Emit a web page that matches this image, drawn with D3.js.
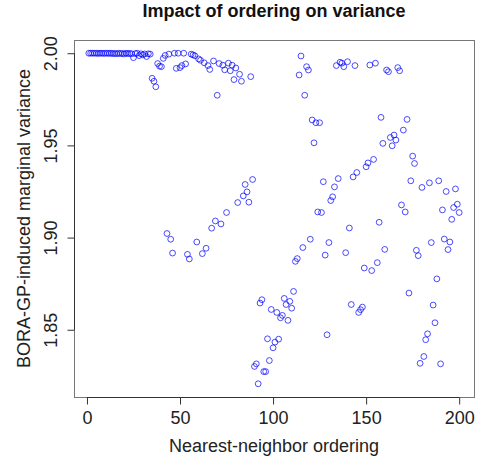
<!DOCTYPE html>
<html>
<head>
<meta charset="utf-8">
<script src="https://cdn.jsdelivr.net/npm/d3@7"></script>
<style>
  body { margin: 0; background: #fff; }
  svg text { font-family: "Liberation Sans", Arial, Helvetica, sans-serif; }
</style>
</head>
<body>
<script>
// ********************** DATA **********************************************
// marginal variance for each position in the nearest-neighbor ordering (1..200)
var variance = [
  2.0000, 2.0000, 2.0000, 2.0000, 2.0000, 1.9999, 2.0000, 2.0000, 1.9999, 2.0000,
  2.0000, 1.9999, 2.0000, 1.9998, 1.9999, 1.9997, 2.0000, 1.9998, 1.9999, 1.9996,
  2.0000, 1.9998, 1.9999, 1.9997, 1.9976, 1.9998, 2.0000, 1.9987, 1.9997, 1.9991,
  1.9996, 1.9982, 1.9997, 1.9995, 1.9864, 1.9848, 1.9818, 1.9944, 1.9930, 1.9927,
  1.9972, 1.9988, 1.9022, 1.9995, 1.8991, 1.8916, 2.0000, 1.9918, 2.0000, 1.9922,
  1.9933, 2.0000, 1.9942, 1.8909, 1.8884, 1.9995, 1.9991, 1.9986, 1.8976, 1.9969,
  1.9962, 1.8913, 1.9948, 1.8942, 1.9933, 1.9912, 1.9051, 1.9958, 1.9090, 1.9772,
  1.9944, 1.9074, 1.9935, 1.9910, 1.9136, 1.9946, 1.9905, 1.9935, 1.9857, 1.9920,
  1.9190, 1.9886, 1.9848, 1.9226, 1.9288, 1.9248, 1.9192, 1.9873, 1.9315, 1.8301,
  1.8315, 1.8207, 1.8645, 1.8663, 1.8273, 1.8273, 1.8451, 1.8333, 1.8610, 1.8402,
  1.8433, 1.8594, 1.8449, 1.8565, 1.8578, 1.8670, 1.8637, 1.8551, 1.8654, 1.8617,
  1.8708, 1.8871, 1.8886, 1.9882, 1.9985, 1.8946, 1.9772, 1.9927, 1.9909, 1.8991,
  1.9638, 1.9514, 1.9623, 1.9139, 1.9623, 1.9136, 1.9303, 1.8905, 1.8473, 1.8973,
  1.9201, 1.9221, 1.9275, 1.9933, 1.9320, 1.9951, 1.9946, 1.9927, 1.8918, 1.9954,
  1.9052, 1.8637, 1.9329, 1.9933, 1.9353, 1.8594, 1.8609, 1.8623, 1.8835, 1.9384,
  1.9405, 1.9936, 1.8821, 1.9424, 1.9946, 1.8864, 1.9083, 1.9652, 1.9511, 1.8936,
  1.9909, 1.9900, 1.9543, 1.9498, 1.9556, 1.9529, 1.9922, 1.9905, 1.9177, 1.9583,
  1.9139, 1.9641, 1.8699, 1.9308, 1.9442, 1.9402, 1.8931, 1.8902, 1.8318, 1.9272,
  1.8355, 1.8446, 1.8478, 1.9297, 1.8973, 1.8634, 1.8538, 1.8776, 1.9308, 1.8315,
  1.9150, 1.8992, 1.9250, 1.8935, 1.8976, 1.9099, 1.9163, 1.9264, 1.9181, 1.9136
];
var xTicks = [0, 50, 100, 150, 200];
var yTicks = [1.85, 1.90, 1.95, 2.00];

var titleText = "Impact of ordering on variance";
var xLabel = "Nearest-neighbor ordering";
var yLabel = "BORA-GP-induced marginal variance";

var points = variance.map(function(v, i) { return { idx: i + 1, v: v }; });

// ********************** LAYOUT *********************************************
var width = 479, height = 460;
var plotLeft = 74, plotRight = 474, plotTop = 40, plotBottom = 397;

var svg = d3.select("body")
  .append("svg")
  .attr("width", width)
  .attr("height", height);

svg.append("rect")
  .attr("width", width)
  .attr("height", height)
  .attr("fill", "#fff");

// R style 4% padding around the data range
function pad(ext) {
  var d = (ext[1] - ext[0]) * 0.04;
  return [ext[0] - d, ext[1] + d];
}

var x = d3.scaleLinear()
  .domain(pad(d3.extent(points, function(d) { return d.idx; })))
  .range([plotLeft, plotRight]);

var y = d3.scaleLinear()
  .domain(pad(d3.extent(points, function(d) { return d.v; })))
  .range([plotBottom, plotTop]);

// ********************** BOX ************************************************
svg.append("rect")
  .attr("x", plotLeft + 0.5)
  .attr("y", plotTop + 0.5)
  .attr("width", plotRight - plotLeft)
  .attr("height", plotBottom - plotTop)
  .attr("fill", "none")
  .attr("stroke", "#777")
  .attr("stroke-width", 1);

// ********************** AXES ***********************************************
var xAxis = svg.append("g")
  .attr("transform", "translate(0," + (plotBottom + 0.5) + ")")
  .call(d3.axisBottom(x).tickValues(xTicks).tickFormat(d3.format("d"))
    .tickSize(7).tickSizeOuter(0).tickPadding(7));
xAxis.select(".domain").remove();
xAxis.selectAll(".tick line").attr("stroke", "#333");
xAxis.selectAll("text")
  .style("font-size", "18px")
  .attr("fill", "#222");
xAxis.append("line")
  .attr("x1", x(xTicks[0]))
  .attr("x2", x(xTicks[xTicks.length - 1]))
  .attr("stroke", "#333");

var yAxis = svg.append("g")
  .attr("transform", "translate(" + (plotLeft + 0.5) + ",0)")
  .call(d3.axisLeft(y).tickValues(yTicks).tickFormat(d3.format(".2f"))
    .tickSize(7).tickSizeOuter(0));
yAxis.select(".domain").remove();
yAxis.selectAll(".tick line").attr("stroke", "#333");
yAxis.selectAll("text")
  .attr("x", 0)
  .attr("dy", 0)
  .attr("transform", "translate(-18,0) rotate(-90)")
  .attr("text-anchor", "middle")
  .style("font-size", "18px")
  .attr("fill", "#222");
yAxis.append("line")
  .attr("y1", y(yTicks[0]))
  .attr("y2", y(yTicks[yTicks.length - 1]))
  .attr("stroke", "#333");

// ********************** POINTS *********************************************
svg.append("g")
  .selectAll("circle")
  .data(points)
  .enter().append("circle")
  .attr("cx", function(d) { return x(d.idx); })
  .attr("cy", function(d) { return y(d.v); })
  .attr("r", 2.9)
  .attr("fill", "none")
  .attr("stroke", "#0000ff")
  .attr("stroke-opacity", 0.7)
  .attr("stroke-width", 1);

// ********************** LABELS *********************************************
svg.append("text")
  .attr("x", (plotLeft + plotRight) / 2)
  .attr("y", 17)
  .attr("text-anchor", "middle")
  .text(titleText)
  .style("font-size", "18px")
  .style("font-weight", "bold")
  .attr("fill", "#111");

svg.append("text")
  .attr("x", (plotLeft + plotRight) / 2)
  .attr("y", 452)
  .attr("text-anchor", "middle")
  .text(xLabel)
  .style("font-size", "18px")
  .attr("fill", "#222");

svg.append("text")
  .attr("transform", "translate(30," + ((plotTop + plotBottom) / 2) + ") rotate(-90)")
  .attr("text-anchor", "middle")
  .text(yLabel)
  .style("font-size", "18px")
  .attr("fill", "#222");
</script>
</body>
</html>
